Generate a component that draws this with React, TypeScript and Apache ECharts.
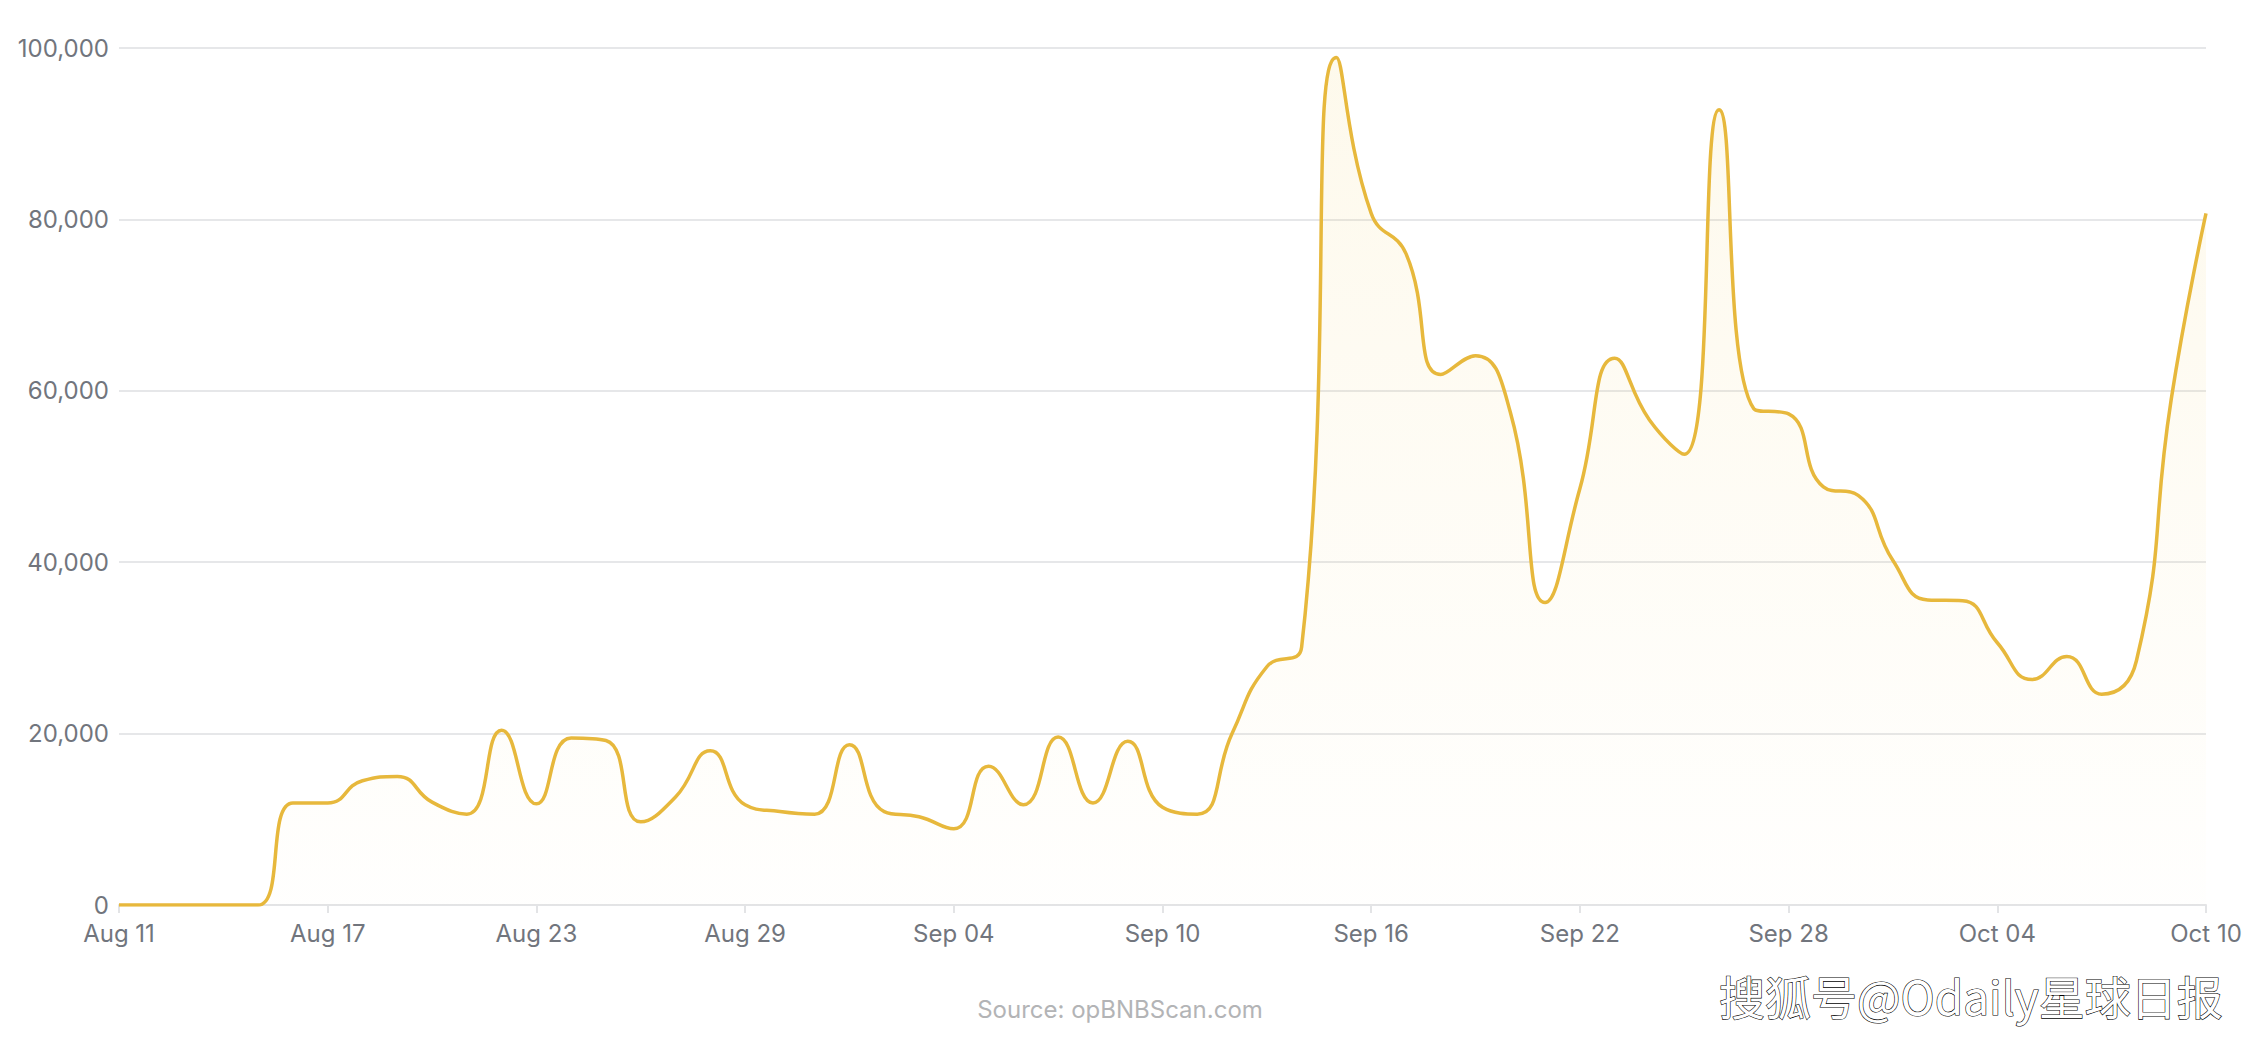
import React, { useEffect, useRef } from "react";
import * as echarts from "echarts";

const dates: string[] = [
  "Aug 11", "Aug 12", "Aug 13", "Aug 14", "Aug 15", "Aug 16", "Aug 17", "Aug 18", "Aug 19", "Aug 20",
  "Aug 21", "Aug 22", "Aug 23", "Aug 24", "Aug 25", "Aug 26", "Aug 27", "Aug 28", "Aug 29", "Aug 30",
  "Aug 31", "Sep 01", "Sep 02", "Sep 03", "Sep 04", "Sep 05", "Sep 06", "Sep 07", "Sep 08", "Sep 09",
  "Sep 10", "Sep 11", "Sep 12", "Sep 13", "Sep 14", "Sep 15", "Sep 16", "Sep 17", "Sep 18", "Sep 19",
  "Sep 20", "Sep 21", "Sep 22", "Sep 23", "Sep 24", "Sep 25", "Sep 26", "Sep 27", "Sep 28", "Sep 29",
  "Sep 30", "Oct 01", "Oct 02", "Oct 03", "Oct 04", "Oct 05", "Oct 06", "Oct 07", "Oct 08", "Oct 09",
  "Oct 10",
];

const values: number[] = [
  0, 0, 0, 0, 0, 11900, 11900, 14500, 15000, 12000,
  10600, 20400, 11800, 19500, 19200, 9700, 12600, 18000, 11700, 10900,
  10600, 18700, 10900, 10300, 8900, 16200, 11700, 19600, 11900, 19100,
  11400, 10600, 20000, 27800, 30100, 98900, 80700, 76000, 61900, 64100,
  57500, 35300, 48600, 63800, 56600, 52600, 92800, 57900, 57300, 48800,
  47800, 40200, 35600, 35500, 30600, 26300, 29000, 24600, 28500, 59000,
  80700,
];

const yTicks: number[] = [0, 20000, 40000, 60000, 80000, 100000];

const sourceText = "Source: opBNBScan.com";
const watermarkText = "搜狐号@Odaily星球日报";

export default function App() {
  const ref = useRef<HTMLDivElement>(null);

  useEffect(() => {
    if (!ref.current) return;
    const chart = echarts.init(ref.current, undefined, { renderer: "svg" });
    const labelColor = "#71757d";
    chart.setOption({
      animation: false,
      backgroundColor: "#ffffff",
      grid: { left: 119, right: 60, top: 48, bottom: 135, containLabel: false },
      xAxis: {
        type: "category",
        data: dates,
        boundaryGap: false,
        axisLine: { show: true, lineStyle: { color: "#e3e4e6", width: 2 } },
        axisTick: { show: true, interval: 5, length: 8, lineStyle: { color: "#e3e4e6", width: 2 } },
        axisLabel: {
          interval: 5,
          color: labelColor,
          fontSize: 24,
          fontFamily: "Inter",
          margin: 16,
        },
        splitLine: { show: false },
      },
      yAxis: {
        type: "value",
        min: yTicks[0],
        max: yTicks[yTicks.length - 1],
        interval: 20000,
        axisLine: { show: false },
        axisTick: { show: false },
        axisLabel: {
          color: labelColor,
          fontSize: 24,
          fontFamily: "Inter",
          margin: 10,
          formatter: (v: number) => v.toLocaleString("en-US"),
        },
        splitLine: { show: true, lineStyle: { color: "#e6e7e9", width: 2 } },
      },
      series: [
        {
          type: "line",
          data: values,
          smooth: 0.5,
          showSymbol: false,
          symbol: "none",
          lineStyle: { color: "#e7b83c", width: 3.5 },
          itemStyle: { color: "#e7b83c" },
          areaStyle: {
            color: new echarts.graphic.LinearGradient(0, 0, 0, 1, [
              { offset: 0, color: "rgba(240, 196, 60, 0.14)" },
              { offset: 1, color: "rgba(240, 196, 60, 0.01)" },
            ]),
          },
        },
      ],
      graphic: [
        {
          type: "text",
          x: 1120,
          y: 1009,
          style: {
            text: sourceText,
            fill: "#b3b4b6",
            fontSize: 24,
            fontFamily: "Inter",
            textAlign: "center",
            textVerticalAlign: "middle",
          },
        },
        {
          type: "text",
          x: 1719,
          y: 995,
          style: {
            text: watermarkText,
            fill: "#ffffff",
            fontSize: 46,
            fontFamily: "Noto Sans CJK SC",
            textAlign: "left",
            textVerticalAlign: "middle",
            stroke: "#000000",
            lineWidth: 1.2,
            textShadowColor: "#000000",
            textShadowOffsetX: -2,
            textShadowOffsetY: 2,
            textShadowBlur: 0,
          },
        },
      ],
    });
    return () => chart.dispose();
  }, []);

  return (
    <div
      ref={ref}
      style={{ position: "fixed", left: 0, top: 0, width: 2266, height: 1040, background: "#fff" }}
    />
  );
}
